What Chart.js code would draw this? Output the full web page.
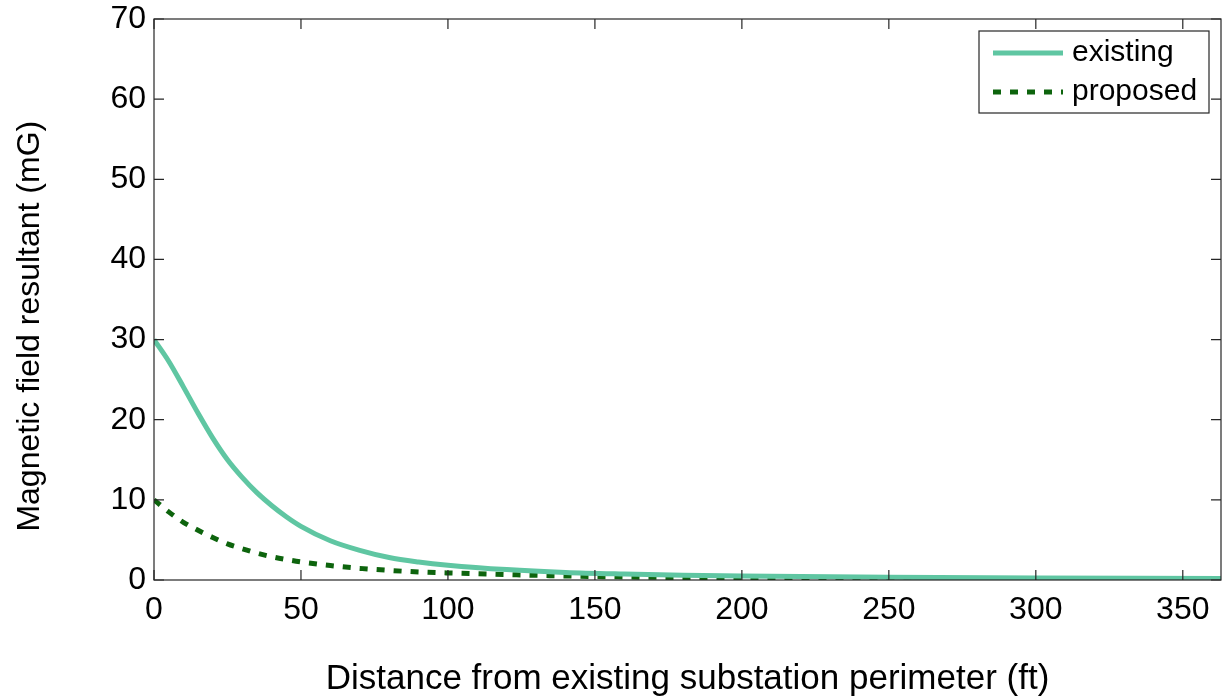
<!DOCTYPE html>
<html>
<head>
<meta charset="utf-8">
<script src="https://cdn.jsdelivr.net/npm/chart.js@4.4.1/dist/chart.umd.min.js"></script>
<style>
  html, body { margin: 0; padding: 0; background: #fff; }
  #wrap { width: 1228px; height: 700px; }
</style>
</head>
<body>
<div id="wrap"><canvas id="fieldChart" width="1228" height="700"></canvas></div>
<script>
// distance from perimeter (ft)
const distance = [0, 5, 10, 15, 20, 25, 30, 35, 40, 45, 50, 60, 70, 80, 90, 100, 120, 140, 160, 180, 200, 250, 300, 363];
// magnetic field resultant (mG)
const existing = [30, 27.3, 24.1, 20.8, 17.7, 15.0, 12.8, 10.9, 9.3, 7.9, 6.7, 4.9, 3.7, 2.8, 2.25, 1.85, 1.3, 0.95, 0.75, 0.6, 0.5, 0.33, 0.24, 0.18];
const proposed = [10, 8.5, 7.2, 6.2, 5.3, 4.5, 3.9, 3.35, 2.9, 2.55, 2.25, 1.8, 1.45, 1.2, 1.0, 0.88, 0.68, 0.5, 0.38, 0.3, 0.25, 0.17, 0.12, 0.09];
const xTicks = [0, 50, 100, 150, 200, 250, 300, 350];
const yTicks = [0, 10, 20, 30, 40, 50, 60, 70];

const FONT = "'Liberation Sans', Arial, Helvetica, sans-serif";

// MATLAB-ish box with inward ticks on all four sides
const framePlugin = {
  id: 'frame',
  afterDatasetsDraw(chart) {
    const { ctx, chartArea: a, scales } = chart;
    const len = 10;
    ctx.save();
    ctx.strokeStyle = '#262626';
    ctx.lineWidth = 1.2;
    ctx.strokeRect(a.left, a.top, a.right - a.left, a.bottom - a.top);
    ctx.beginPath();
    xTicks.forEach(v => {
      const px = scales.x.getPixelForValue(v);
      ctx.moveTo(px, a.bottom); ctx.lineTo(px, a.bottom - len);
      ctx.moveTo(px, a.top); ctx.lineTo(px, a.top + len);
    });
    yTicks.forEach(v => {
      const py = scales.y.getPixelForValue(v);
      ctx.moveTo(a.left, py); ctx.lineTo(a.left + len, py);
      ctx.moveTo(a.right, py); ctx.lineTo(a.right - len, py);
    });
    ctx.stroke();
    ctx.restore();
  }
};

// boxed legend in the top right corner of the plot
const legendBoxPlugin = {
  id: 'legendBox',
  afterDraw(chart) {
    const { ctx, chartArea: a } = chart;
    const boxW = 230, boxH = 82;
    const x0 = a.right - 12 - boxW, y0 = a.top + 12;
    ctx.save();
    ctx.fillStyle = '#fff';
    ctx.fillRect(x0, y0, boxW, boxH);
    ctx.strokeStyle = '#262626';
    ctx.lineWidth = 1.2;
    ctx.strokeRect(x0, y0, boxW, boxH);
    ctx.font = '30px ' + FONT;
    ctx.textBaseline = 'middle';
    ctx.fillStyle = '#000';
    chart.data.datasets.forEach((ds, i) => {
      const y = y0 + 22 + i * 39;
      ctx.beginPath();
      ctx.strokeStyle = ds.borderColor;
      ctx.lineWidth = ds.borderWidth;
      ctx.setLineDash(ds.borderDash || []);
      ctx.moveTo(x0 + 14, y);
      ctx.lineTo(x0 + 84, y);
      ctx.stroke();
      ctx.setLineDash([]);
      ctx.fillText(ds.label, x0 + 93, y);
    });
    ctx.restore();
  }
};

new Chart(document.getElementById('fieldChart'), {
  type: 'line',
  data: {
    datasets: [
      {
        label: 'existing',
        data: distance.map((d, i) => ({ x: d, y: existing[i] })),
        borderColor: '#5fc6a2',
        borderWidth: 5,
        pointRadius: 0,
        cubicInterpolationMode: 'monotone',
        fill: false
      },
      {
        label: 'proposed',
        data: distance.map((d, i) => ({ x: d, y: proposed[i] })),
        borderColor: '#0d640d',
        borderWidth: 5,
        borderDash: [8, 9],
        borderCapStyle: 'butt',
        pointRadius: 0,
        cubicInterpolationMode: 'monotone',
        fill: false
      }
    ]
  },
  options: {
    responsive: false,
    animation: false,
    layout: { padding: { top: 19, right: 7, left: 0, bottom: 0 } },
    plugins: {
      legend: { display: false },
      tooltip: { enabled: false }
    },
    scales: {
      x: {
        type: 'linear',
        min: 0,
        max: 363,
        afterBuildTicks: s => { s.ticks = xTicks.map(v => ({ value: v })); },
        afterFit: s => { s.height = 120; s.paddingLeft = 0; s.paddingRight = 0; },
        grid: { display: false, drawTicks: false },
        border: { display: false },
        ticks: {
          color: '#000',
          padding: 11,
          maxRotation: 0,
          font: { family: FONT, size: 32 }
        },
        title: {
          display: true,
          text: 'Distance from existing substation perimeter (ft)',
          color: '#000',
          font: { family: FONT, size: 35 },
          padding: { top: 0, bottom: 0 }
        }
      },
      y: {
        min: 0,
        max: 70,
        afterBuildTicks: s => { s.ticks = yTicks.map(v => ({ value: v })); },
        afterFit: s => { s.width = 154; s.paddingTop = 0; s.paddingBottom = 0; },
        grid: { display: false, drawTicks: false },
        border: { display: false },
        ticks: {
          color: '#000',
          padding: 8,
          font: { family: FONT, size: 32 }
        },
        title: {
          display: true,
          text: 'Magnetic field resultant (mG)      ',
          color: '#000',
          font: { family: FONT, size: 32 },
          padding: { top: 11, bottom: 0 }
        }
      }
    }
  },
  plugins: [framePlugin, legendBoxPlugin]
});
</script>
</body>
</html>
